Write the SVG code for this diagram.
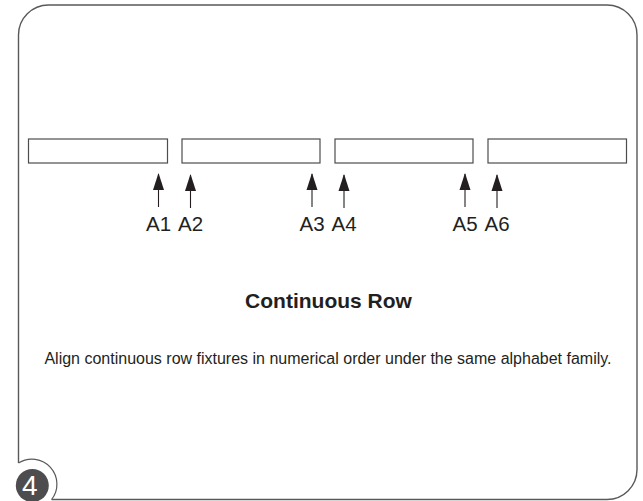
<svg xmlns="http://www.w3.org/2000/svg" width="643" height="501" viewBox="0 0 643 501">
<style>
text{font-family:"Liberation Sans",Arial,sans-serif;fill:#231f20}
.frame{fill:none;stroke:#58595b;stroke-width:1.4}
.box{fill:#fff;stroke:#4d4d4f;stroke-width:1.2}
.shaft{fill:none;stroke:#231f20;stroke-width:1.1}
.head{fill:#231f20}
.lab{font-size:20.5px;text-anchor:middle}
</style>
<rect width="643" height="501" fill="#fff"/>
<g id="frame"><path class="frame" d="M18.500 463V35A30 30 0 0 1 48.500 5H607A30 30 0 0 1 637 35V469.500A30 30 0 0 1 607 499.500H51.600"/></g>
<g id="box1"><rect class="box" x="28.500" y="139" width="139" height="24"/></g>
<g id="box2"><rect class="box" x="182" y="139" width="138" height="24"/></g>
<g id="box3"><rect class="box" x="335" y="139" width="138" height="24"/></g>
<g id="box4"><rect class="box" x="488" y="139" width="138.500" height="24"/></g>
<g id="connectors">
<path class="shaft" d="M158.500 207V174"/><path class="head" d="M158.500 173L164 190H153Z"/>
<path class="shaft" d="M190.500 208V175"/><path class="head" d="M190.500 174L196 191H185Z"/>
<path class="shaft" d="M312 207V174"/><path class="head" d="M312 173L317.500 190H306.500Z"/>
<path class="shaft" d="M344 208V175"/><path class="head" d="M344 174L349.500 191H338.500Z"/>
<path class="shaft" d="M465 207V174"/><path class="head" d="M465 173L470.500 190H459.500Z"/>
<path class="shaft" d="M497 208V175"/><path class="head" d="M497 174L502.500 191H491.500Z"/>
</g>
<g id="labels">
<text class="lab" x="158.500" y="231">A1</text>
<text class="lab" x="190.500" y="231">A2</text>
<text class="lab" x="312" y="231">A3</text>
<text class="lab" x="344" y="231">A4</text>
<text class="lab" x="465" y="231">A5</text>
<text class="lab" x="497" y="231">A6</text>
</g>
<text x="328.500" y="308" font-size="21" font-weight="700" text-anchor="middle">Continuous Row</text>
<text x="328" y="364" font-size="16" text-anchor="middle">Align continuous row fixtures in numerical order under the same alphabet family.</text>
<g id="badge">
<path d="M18.500 463A25 25 0 0 1 51.600 499.500" fill="none" stroke="#58595b" stroke-width="1.200"/>
<circle cx="32.300" cy="485.500" r="16.500" fill="#4d4d4f"/>
<text x="29.700" y="495" font-size="28" text-anchor="middle" style="fill:#fff">4</text>
</g>
</svg>
